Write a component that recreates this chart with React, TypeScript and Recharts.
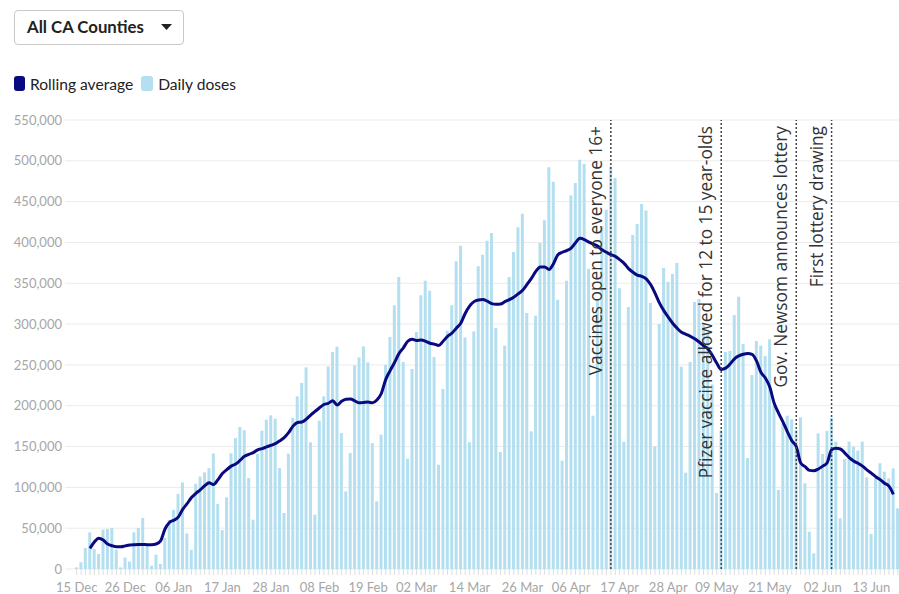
import React from 'react';
import { ComposedChart, Bar, Line, XAxis, YAxis, CartesianGrid, ReferenceLine } from 'recharts';

const MONTHS = ['Jan', 'Feb', 'Mar', 'Apr', 'May', 'Jun', 'Jul', 'Aug', 'Sep', 'Oct', 'Nov', 'Dec'];

// Daily doses, one value per day from 15 Dec 2020
const dailyDoses: number[] = [
  2000, 8200, 25700, 44900, 24500, 18400, 48200, 49000, 50200, 23700,
  2000, 13900, 9000, 44900, 50200, 62500, 29800, 4100, 17600, 6100,
  38000, 60000, 72500, 92000, 106000, 43500, 23500, 104300, 113300, 118400,
  123500, 141500, 79800, 47600, 87800, 141800, 160300, 174000, 170000, 111500,
  60400, 140900, 169400, 183000, 188200, 184100, 123700, 68600, 141300, 185000,
  211500, 227800, 247000, 155200, 66600, 181700, 211500, 248200, 265800, 272300,
  166600, 95100, 142100, 249500, 259300, 272700, 253100, 154300, 82900, 164500,
  250000, 284200, 323000, 357700, 253600, 135100, 245000, 290300, 335200, 353200,
  340900, 259700, 127800, 220500, 291900, 323000, 376900, 396000, 283800, 155200,
  291000, 370800, 385000, 402200, 411600, 295200, 143300, 273600, 357700, 388300,
  418500, 435300, 313600, 168600, 310300, 399300, 427100, 492000, 474500, 329900,
  132700, 353200, 457700, 472800, 501400, 496100, 367900, 187800, 330000, 420000,
  440000, 493000, 479000, 344000, 155900, 321000, 409000, 422500, 447000, 439000,
  325800, 150200, 300100, 368700, 352000, 361400, 374800, 247800, 117900, 253600,
  327000, 330700, 300000, 290000, 226000, 93000, 170000, 265800, 267000, 311000,
  333500, 275600, 136000, 237600, 279300, 273600, 260900, 281300, 200000, 96800,
  177600, 187800, 183300, 170000, 185800, 105000, 45700, 19200, 166200, 140900,
  169000, 185000, 156000, 62100, 134700, 156000, 149800, 144900, 156000, 112300,
  42900, 111100, 129500, 119200, 111100, 123300, 74300,
];

// Rolling average line
const rollingAverage: (number | null)[] = [
  null, null, null, 25300, 33000, 37800, 35500, 30600, 28500, 27300,
  27300, 28300, 29400, 29800, 30000, 30000, 29800, 29800, 30600, 34500,
  49000, 57000, 59800, 63500, 73000, 80000, 87500, 92700, 97000, 102000,
  105500, 103500, 109500, 117000, 121700, 126000, 128500, 133000, 138000, 140500,
  142500, 146000, 147500, 149500, 151500, 153500, 157000, 161000, 167000, 175000,
  179400, 180000, 183500, 188600, 193000, 197500, 201500, 202900, 206000, 200900,
  205500, 208000, 208200, 206000, 203500, 204000, 204500, 203500, 207000, 215000,
  232000, 243000, 253000, 264000, 271000, 279000, 281500, 280000, 280500, 279000,
  276500, 275500, 273800, 279000, 285000, 289000, 295000, 301000, 313000, 322000,
  327500, 329500, 330000, 328000, 325000, 324200, 324500, 327500, 330000, 333000,
  337000, 341500, 348500, 356000, 364500, 370000, 370000, 367000, 374000, 385000,
  388000, 390000, 393000, 399700, 405000, 403500, 400500, 398000, 395500, 391000,
  388000, 385000, 383000, 379000, 374400, 368000, 363500, 360000, 358500, 355500,
  348500, 338000, 326000, 316500, 308500, 301000, 295000, 290000, 287500, 285000,
  282000, 278000, 273500, 269500, 261500, 252000, 244500, 246000, 251000, 257500,
  261000, 263000, 264000, 263000, 255000, 241000, 234000, 223000, 203000, 191000,
  180000, 168000, 157000, 150000, 130000, 125300, 120800, 120400, 122500, 126000,
  130200, 146000, 147800, 147000, 142000, 136500, 132300, 129500, 126000, 121500,
  117500, 113000, 109500, 105000, 101500, 91500, null,
];

const tickLabels: string[] = [
  '15 Dec', '26 Dec', '06 Jan', '17 Jan', '28 Jan', '08 Feb', '19 Feb', '02 Mar', '14 Mar',
  '26 Mar', '06 Apr', '17 Apr', '28 Apr', '09 May', '21 May', '02 Jun', '13 Jun',
];

const yTicks: number[] = [0, 50000, 100000, 150000, 200000, 250000, 300000, 350000, 400000, 450000, 500000, 550000];

const events: { date: string; text: string }[] = [
  { date: '15 Apr', text: 'Vaccines open to everyone 16+' },
  { date: '10 May', text: 'Pfizer vaccine allowed for 12 to 15 year-olds' },
  { date: '27 May', text: 'Gov. Newsom announces lottery' },
  { date: '04 Jun', text: 'First lottery drawing' },
];

const START = Date.UTC(2020, 11, 15);
const dates: string[] = dailyDoses.map((_, i) => {
  const d = new Date(START + i * 86400000);
  return `${String(d.getUTCDate()).padStart(2, '0')} ${MONTHS[d.getUTCMonth()]}`;
});

const rows = dates.map((date, i) => ({ date, daily: dailyDoses[i], avg: rollingAverage[i] }));

const BAR_COLOR = '#b4dff0';
const LINE_COLOR = '#0a0a80';

const makeLabel = (text: string) => (props: any) => {
  const vb = props.viewBox || {};
  const x = (vb.x ?? 0) - 9;
  const y = (vb.y ?? 0) + 6;
  return (
    <text
      x={x}
      y={y}
      transform={`rotate(-90, ${x}, ${y})`}
      textAnchor="end"
      fontSize={17.3}
      fill="#333"
      fontFamily="'Open Sans', sans-serif"
    >
      {text}
    </text>
  );
};

export default function App() {
  return (
    <div style={{ position: 'absolute', left: 0, top: 0, width: 899, height: 594, overflow: 'hidden', background: '#fff', fontFamily: 'Lato, sans-serif' }}>
      <ComposedChart
        width={900}
        height={594}
        data={rows}
        margin={{ top: 120, right: 0, left: 0, bottom: 0 }}
        barCategoryGap={0.5}
      >
        <CartesianGrid vertical={false} stroke="#ebebeb" />
        <XAxis
          dataKey="date"
          interval={0}
          height={25}
          axisLine={false}
          tickLine={{ stroke: '#dedede' }}
          tickSize={6}
          tickMargin={8}
          padding={{ left: 9.5, right: 0 }}
          tick={{ fontSize: 13, fill: '#a6a6a6', fontFamily: 'Lato' }}
          tickFormatter={(v: string) => (tickLabels.includes(v) ? v : '')}
        />
        <YAxis
          width={65}
          domain={[0, 550000]}
          ticks={yTicks}
          axisLine={false}
          tickLine={false}
          tickSize={0}
          tickMargin={3}
          tick={{ fontSize: 13, fill: '#a6a6a6', fontFamily: 'Lato' }}
          tickFormatter={(v: number) => v.toLocaleString('en-US')}
        />
        <Bar dataKey="daily" fill={BAR_COLOR} isAnimationActive={false} />
        <Line
          dataKey="avg"
          type="monotone"
          stroke={LINE_COLOR}
          strokeWidth={3}
          dot={false}
          activeDot={false}
          connectNulls
          isAnimationActive={false}
        />
        {events.map((e) => (
          <ReferenceLine
            key={e.date}
            x={e.date}
            stroke="#444"
            strokeWidth={1.5}
            strokeDasharray="2 2"
            label={makeLabel(e.text)}
          />
        ))}
      </ComposedChart>

      <div
        style={{
          position: 'absolute', left: 14, top: 10, width: 170, height: 35, boxSizing: 'border-box',
          border: '1px solid #c9c9c9', borderRadius: 4, background: '#fff',
        }}
      >
        <span style={{ position: 'absolute', left: 12, top: -1, lineHeight: '33px', fontSize: 16.8, fontWeight: 700, color: '#222', fontFamily: 'Lato, sans-serif' }}>
          All CA Counties
        </span>
        <svg width={12} height={8} style={{ position: 'absolute', left: 146, top: 13 }}>
          <polygon points="0,0 11,0 5.5,6" fill="#222" />
        </svg>
      </div>

      <div style={{ position: 'absolute', left: 14, top: 75, height: 17, display: 'flex', alignItems: 'center', fontSize: 15.6, color: '#222', fontFamily: 'Lato, sans-serif' }}>
        <span style={{ display: 'inline-block', width: 11, height: 15, borderRadius: 3, background: LINE_COLOR, marginRight: 5 }} />
        <span>Rolling average</span>
        <span style={{ display: 'inline-block', width: 12, height: 15, borderRadius: 3, background: BAR_COLOR, marginLeft: 8, marginRight: 5 }} />
        <span>Daily doses</span>
      </div>
    </div>
  );
}
